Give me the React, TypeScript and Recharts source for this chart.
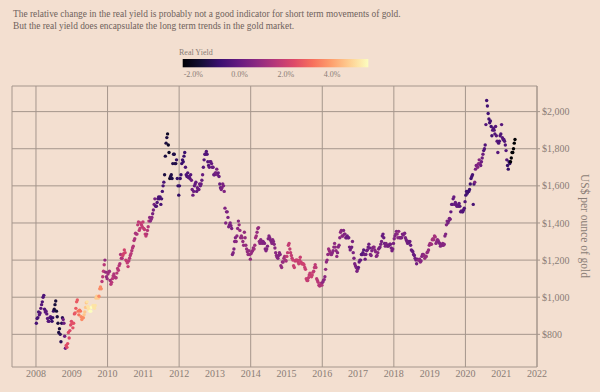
import { ScatterChart, Scatter, XAxis, YAxis, CartesianGrid } from 'recharts';

// gold price, US$/oz, four readings per month
const years = [2008, 2009, 2010, 2011, 2012, 2013, 2014, 2015, 2016, 2017, 2018, 2019, 2020, 2021];

const gold2008 = [860, 885, 890, 920, 905, 915, 940, 960, 975, 1000, 1010, 935, 920, 925, 910, 885, 870, 870, 890, 895, 885, 870, 890, 925, 935, 960, 980, 925, 895, 860, 810, 830, 800, 760, 860, 890, 880, 860, 790, 725, 740, 730, 750, 810, 780, 820, 850, 870];
const gold2009 = [860, 835, 860, 910, 915, 940, 975, 985, 925, 905, 930, 925, 895, 880, 890, 890, 905, 920, 945, 970, 975, 950, 935, 940, 925, 925, 945, 950, 955, 945, 940, 955, 995, 1005, 1000, 995, 1005, 1045, 1055, 1045, 1085, 1110, 1140, 1175, 1200, 1135, 1110, 1100];
const gold2010 = [1125, 1135, 1140, 1090, 1070, 1080, 1100, 1115, 1125, 1110, 1105, 1105, 1130, 1155, 1145, 1170, 1180, 1230, 1210, 1210, 1225, 1235, 1255, 1240, 1200, 1195, 1185, 1165, 1195, 1210, 1225, 1235, 1250, 1265, 1275, 1305, 1315, 1345, 1340, 1340, 1390, 1405, 1360, 1370, 1400, 1390, 1380, 1405];
const gold2011 = [1370, 1365, 1340, 1330, 1340, 1360, 1380, 1410, 1430, 1410, 1420, 1430, 1450, 1470, 1500, 1530, 1490, 1490, 1510, 1530, 1540, 1530, 1540, 1500, 1530, 1570, 1600, 1620, 1660, 1760, 1830, 1860, 1880, 1820, 1780, 1640, 1650, 1660, 1640, 1720, 1770, 1770, 1720, 1720, 1740, 1640, 1600, 1550];
const gold2012 = [1600, 1640, 1660, 1720, 1740, 1730, 1760, 1780, 1700, 1660, 1650, 1670, 1645, 1650, 1640, 1660, 1630, 1580, 1550, 1570, 1600, 1610, 1620, 1570, 1590, 1580, 1580, 1610, 1600, 1610, 1630, 1660, 1700, 1740, 1770, 1770, 1785, 1770, 1730, 1710, 1700, 1730, 1730, 1720, 1700, 1700, 1660, 1660];
const gold2013 = [1670, 1670, 1690, 1660, 1670, 1650, 1610, 1590, 1580, 1590, 1610, 1600, 1570, 1480, 1400, 1460, 1460, 1430, 1380, 1390, 1400, 1385, 1370, 1230, 1240, 1260, 1300, 1320, 1300, 1330, 1370, 1410, 1390, 1360, 1320, 1330, 1320, 1300, 1280, 1350, 1320, 1280, 1260, 1245, 1230, 1250, 1230, 1205];
const gold2014 = [1235, 1245, 1250, 1265, 1260, 1280, 1320, 1330, 1350, 1370, 1375, 1300, 1290, 1310, 1300, 1290, 1300, 1295, 1290, 1260, 1250, 1260, 1275, 1315, 1330, 1320, 1310, 1300, 1290, 1310, 1300, 1285, 1265, 1240, 1225, 1215, 1210, 1225, 1240, 1230, 1170, 1160, 1190, 1190, 1210, 1220, 1200, 1195];
const gold2015 = [1220, 1240, 1280, 1290, 1260, 1240, 1225, 1210, 1200, 1170, 1160, 1195, 1200, 1200, 1200, 1190, 1180, 1200, 1215, 1190, 1180, 1180, 1180, 1175, 1160, 1150, 1100, 1090, 1090, 1105, 1120, 1130, 1120, 1110, 1120, 1135, 1140, 1160, 1175, 1160, 1100, 1090, 1080, 1065, 1060, 1065, 1075, 1065];
const gold2016 = [1080, 1090, 1095, 1110, 1150, 1190, 1200, 1230, 1260, 1250, 1240, 1230, 1230, 1240, 1250, 1270, 1290, 1270, 1250, 1220, 1240, 1270, 1280, 1320, 1350, 1360, 1330, 1330, 1360, 1340, 1340, 1320, 1320, 1330, 1320, 1320, 1270, 1255, 1265, 1270, 1300, 1240, 1210, 1180, 1170, 1160, 1140, 1150];
const gold2017 = [1160, 1190, 1200, 1200, 1230, 1230, 1240, 1255, 1230, 1205, 1230, 1250, 1255, 1270, 1285, 1265, 1230, 1225, 1250, 1265, 1270, 1270, 1255, 1245, 1220, 1225, 1240, 1260, 1265, 1270, 1285, 1300, 1330, 1340, 1320, 1290, 1275, 1290, 1280, 1275, 1275, 1280, 1285, 1285, 1265, 1250, 1260, 1290];
const gold2018 = [1315, 1330, 1340, 1355, 1340, 1320, 1355, 1320, 1320, 1320, 1320, 1340, 1335, 1340, 1345, 1320, 1310, 1300, 1290, 1300, 1295, 1300, 1280, 1255, 1250, 1245, 1230, 1225, 1210, 1200, 1180, 1205, 1200, 1200, 1205, 1190, 1195, 1220, 1230, 1230, 1225, 1210, 1220, 1220, 1240, 1245, 1255, 1280];
const gold2019 = [1290, 1285, 1285, 1310, 1315, 1310, 1330, 1325, 1290, 1300, 1310, 1305, 1295, 1290, 1275, 1280, 1280, 1290, 1280, 1285, 1330, 1340, 1390, 1410, 1400, 1410, 1425, 1420, 1460, 1500, 1500, 1530, 1540, 1500, 1510, 1500, 1490, 1495, 1490, 1505, 1490, 1460, 1465, 1460, 1460, 1470, 1480, 1515];
const gold2020 = [1550, 1570, 1560, 1570, 1570, 1580, 1610, 1640, 1650, 1660, 1500, 1610, 1620, 1690, 1710, 1710, 1700, 1720, 1740, 1720, 1710, 1730, 1750, 1770, 1790, 1800, 1820, 1930, 2060, 2030, 1990, 1960, 1940, 1950, 1920, 1870, 1900, 1910, 1900, 1880, 1920, 1870, 1840, 1780, 1830, 1840, 1870, 1880];
const gold2021 = [1930, 1860, 1850, 1850, 1840, 1820, 1790, 1740, 1710, 1690, 1730, 1720, 1730, 1750, 1780, 1780, 1800, 1830, 1850];

// real yield, %, one per month
const yield2008 = [-0.6, -0.3, -0.5, -0.2, -0.3, -0.9, -1.6, -1.5, -1.2, 0.1, 2.4, 2.3];
const yield2009 = [2.5, 2.7, 3.2, 3.6, 4.6, 5.1, 5.6, 5.1, 4.7, 3.6, 1.6, 0.9];
const yield2010 = [1.1, 1.6, 1.4, 1.6, 1.4, 2.1, 1.8, 1.6, 1.5, 1.3, 1.7, 1.8];
const yield2011 = [1.8, 1.5, 0.7, 0.3, -0.4, -0.6, -0.6, -1.5, -1.9, -1.4, -1.4, -1.0];
const yield2012 = [-0.9, -0.9, -0.5, -0.3, 0.1, -0.1, 0.1, 0, -0.3, -0.4, -0.1, 0];
const yield2013 = [0.3, 0, 0.4, 0.5, 0.4, 0.4, 0.5, 0.7, 0.9, 0.9, 0.9, 0.9];
const yield2014 = [0.9, 1.1, 0.9, 0.6, 0.5, 0.5, 0.5, 0.6, 0.7, 0.6, 0.9, 1.2];
const yield2015 = [1.8, 1.8, 1.9, 1.9, 1.9, 2.0, 1.9, 1.8, 1.9, 1.7, 1.6, 1.4];
const yield2016 = [0.7, 0.8, 1.0, 0.7, 0.8, 0.6, 0.7, 0.5, 0.1, 0.2, 0.4, 0.4];
const yield2017 = [-0.1, -0.3, 0.1, 0.1, 0.4, 0.6, 0.6, 0.3, 0, 0.4, 0.2, 0.3];
const yield2018 = [0.5, 0.7, 0.4, 0.4, 0.2, 0, 0, 0.2, 0.7, 0.6, 0.9, 0.9];
const yield2019 = [1.1, 1.2, 0.7, 0.5, 0.6, 0.5, 0.3, -0.1, 0, -0.1, -0.3, -0.4];
const yield2020 = [-0.7, -0.8, -0.6, 0.4, 0.6, 0.1, -0.4, -0.7, -0.7, -0.4, -0.3, -0.5];
const yield2021 = [-0.3, -0.4, -1.0, -2.6, -3.4];

const goldByYear = [gold2008, gold2009, gold2010, gold2011, gold2012, gold2013, gold2014, gold2015, gold2016, gold2017, gold2018, gold2019, gold2020, gold2021];
const yieldByYear = [yield2008, yield2009, yield2010, yield2011, yield2012, yield2013, yield2014, yield2015, yield2016, yield2017, yield2018, yield2019, yield2020, yield2021];

const xTicks = [2008, 2009, 2010, 2011, 2012, 2013, 2014, 2015, 2016, 2017, 2018, 2019, 2020, 2021, 2022];
const yTicks = [800, 1000, 1200, 1400, 1600, 1800, 2000];
const legendTicks = [-2, 0, 2, 4];

const Y_MIN = -2.46;
const Y_MAX = 5.56;

const MAGMA = ['#000004', '#140e36', '#3b0f70', '#641a80', '#8c2981', '#b73779', '#de4968', '#f7705c', '#fe9f6d', '#fecf92', '#fcfdbf'];

function hex(c: string) {
  return [1, 3, 5].map((i) => parseInt(c.slice(i, i + 2), 16));
}

function magma(v: number) {
  let t = (v - Y_MIN) / (Y_MAX - Y_MIN);
  t = Math.max(0, Math.min(1, t));
  const pos = t * (MAGMA.length - 1);
  const i = Math.min(MAGMA.length - 2, Math.floor(pos));
  const f = pos - i;
  const a = hex(MAGMA[i]);
  const b = hex(MAGMA[i + 1]);
  const rgb = a.map((x, k) => Math.round(x + (b[k] - x) * f));
  return `rgb(${rgb[0]},${rgb[1]},${rgb[2]})`;
}

const data = years.flatMap((yr, i) =>
  goldByYear[i].map((price, j) => ({
    date: yr + (j + 0.5) / 48,
    price,
    color: magma(yieldByYear[i][Math.floor(j / 4)]),
  }))
);

const GRID = '#a5968c';
const LABEL = '#8a7d76';

const legendX = (v: number) => 182.7 + ((v - Y_MIN) / (Y_MAX - Y_MIN)) * 185.6;

function Dot(props: any) {
  const { cx, cy, payload } = props;
  if (cx == null || cy == null) return null;
  return <circle cx={cx} cy={cy} r={1.7} fill={payload.color} />;
}

export default function App() {
  return (
    <div
      style={{
        position: 'absolute',
        left: 0,
        top: 0,
        width: 600,
        height: 392,
        background: '#f3dfd0',
        fontFamily: '"Liberation Serif", serif',
      }}
    >
      <ScatterChart width={600} height={392} margin={{ top: 86, right: 0, bottom: 0, left: 12 }}>
        <CartesianGrid stroke={GRID} strokeWidth={1} />
        <XAxis
          type="number"
          dataKey="date"
          domain={[2007.33, 2022]}
          ticks={xTicks}
          allowDataOverflow
          axisLine={false}
          tickLine={false}
          tickSize={0}
          tickMargin={3}
          height={25}
          tick={{ fill: LABEL, fontSize: 10 }}
        />
        <YAxis
          type="number"
          dataKey="price"
          orientation="right"
          domain={[624, 2138]}
          ticks={yTicks}
          allowDataOverflow
          width={63}
          axisLine={{ stroke: GRID }}
          tickLine={{ stroke: GRID }}
          tickSize={3}
          tickMargin={2}
          tick={{ fill: LABEL, fontSize: 10 }}
          tickFormatter={(v: number) => `$${v.toLocaleString('en-US')}`}
        />
        <Scatter data={data} isAnimationActive={false} shape={Dot} />
      </ScatterChart>

      <svg width={600} height={392} style={{ position: 'absolute', left: 0, top: 0, pointerEvents: 'none' }}>
        <defs>
          <linearGradient id="magma" x1="0" x2="1" y1="0" y2="0">
            {MAGMA.map((c, i) => (
              <stop key={i} offset={i / (MAGMA.length - 1)} stopColor={c} />
            ))}
          </linearGradient>
        </defs>
        <text x={13} y={16.5} fontSize={9.4} fill="#6f625c">
          The relative change in the real yield is probably not a good indicator for short term movements of gold.
        </text>
        <text x={13} y={29} fontSize={9.4} fill="#6f625c">
          But the real yield does encapsulate the long term trends in the gold market.
        </text>
        <text x={179} y={55} fontSize={8} fill={LABEL}>
          Real Yield
        </text>
        <rect x={182.7} y={59} width={185.6} height={8.3} fill="url(#magma)" />
        {legendTicks.map((v) => (
          <text key={v} x={legendX(v)} y={77} fontSize={8} fill={LABEL} textAnchor="middle">
            {v.toFixed(1)}%
          </text>
        ))}
        <text
          x={585}
          y={226}
          fontSize={11.5}
          fill={LABEL}
          textAnchor="middle"
          dominantBaseline="central"
          transform="rotate(90 585 226)"
        >
          US$ per ounce of gold
        </text>
      </svg>
    </div>
  );
}
